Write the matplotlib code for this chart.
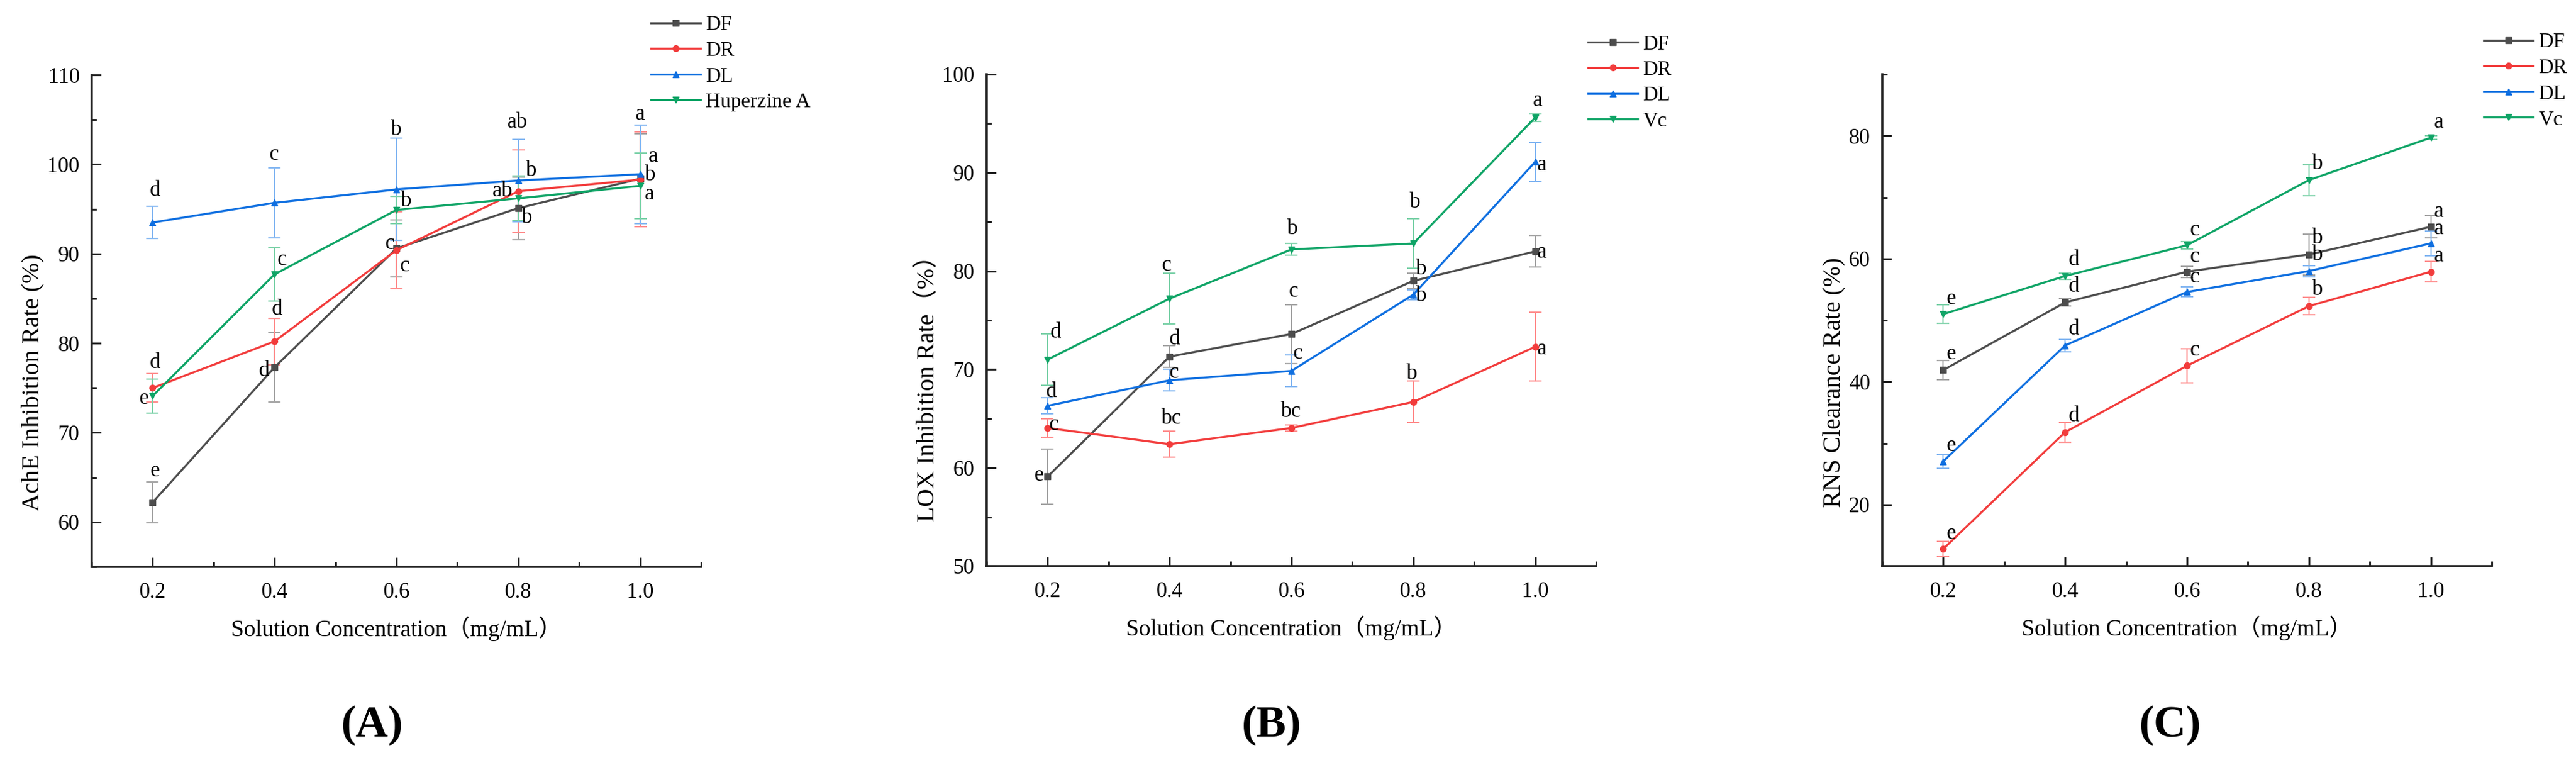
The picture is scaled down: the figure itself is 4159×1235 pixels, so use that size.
import matplotlib
matplotlib.use('Agg')
import matplotlib.pyplot as plt
from matplotlib.ticker import MultipleLocator

plt.rcParams['font.family'] = ['Liberation Serif', 'Noto Sans CJK SC']
plt.rcParams['mathtext.fontset'] = 'stix'

# concentrazioni (mg/mL)
conc = [0.2, 0.4, 0.6, 0.8, 1.0]
series_names = ['DF', 'DR', 'DL']

# --- (A) AchE ---
ache_df = [62.2, 77.3, 90.6, 95.1, 98.4]
ache_df_err = [2.3, 3.9, 3.2, 3.5, 5.0]
ache_dr = [75.0, 80.2, 90.4, 97.0, 98.3]
ache_dr_err = [1.6, 2.6, 4.3, 4.6, 5.3]
ache_dl = [93.5, 95.7, 97.2, 98.2, 98.9]
ache_dl_err = [1.8, 3.9, 5.7, 4.6, 5.5]
ache_hup = [74.1, 87.7, 94.9, 96.2, 97.6]
ache_hup_err = [1.9, 3.0, 1.5, 2.5, 3.7]
ache_letters = [
    (0.2045, 97.1, 'd'), (0.399, 101.1, 'c'), (0.600, 103.9, 'b'), (0.798, 104.7, 'ab'),
    (1.000, 105.6, 'a'), (1.021, 100.9, 'a'), (1.016, 98.8, 'b'), (1.015, 96.7, 'a'),
    (0.821, 99.3, 'b'), (0.774, 97.0, 'ab'), (0.814, 94.0, 'b'), (0.616, 95.9, 'b'),
    (0.589, 91.1, 'c'), (0.614, 88.6, 'c'), (0.412, 89.3, 'c'), (0.4045, 83.8, 'd'),
    (0.383, 76.9, 'd'), (0.2045, 77.8, 'd'), (0.1855, 73.8, 'e'), (0.2036, 65.7, 'e'),
]

# --- (B) LOX ---
lox_df = [59.1, 71.3, 73.6, 79.0, 82.0]
lox_df_err = [2.8, 1.1, 3.0, 0.8, 1.6]
lox_dr = [64.05, 62.4, 64.05, 66.7, 72.3]
lox_dr_err = [0.95, 1.3, 0.3, 2.1, 3.5]
lox_dl = [66.3, 68.9, 69.85, 77.6, 91.1]
lox_dl_err = [0.8, 1.1, 1.6, 0.5, 2.0]
lox_vc = [71.0, 77.2, 82.2, 82.8, 95.6]
lox_vc_err = [2.6, 2.6, 0.6, 2.5, 0.4]
lox_letters = [
    (0.2136, 73.8, 'd'), (0.2063, 67.7, 'd'), (0.210, 64.4, 'c'), (0.1855, 59.2, 'e'),
    (0.3955, 80.6, 'c'), (0.408, 73.1, 'd'), (0.407, 69.7, 'c'), (0.403, 65.0, 'bc'),
    (0.602, 84.3, 'b'), (0.603, 77.9, 'c'), (0.611, 71.6, 'c'), (0.599, 65.7, 'bc'),
    (0.803, 87.0, 'b'), (0.8136, 80.2, 'b'), (0.8136, 77.5, 'b'), (0.798, 69.55, 'b'),
    (1.0036, 97.3, 'a'), (1.011, 90.8, 'a'), (1.011, 81.9, 'a'), (1.011, 72.1, 'a'),
]

# --- (C) RNS ---
rns_df = [41.9, 52.9, 57.9, 60.7, 65.2]
rns_df_err = [1.6, 0.6, 0.9, 3.3, 1.8]
rns_dr = [12.8, 31.8, 42.6, 52.3, 57.9]
rns_dr_err = [1.2, 1.6, 2.8, 1.4, 1.7]
rns_dl = [27.05, 45.9, 54.6, 58.0, 62.5]
rns_dl_err = [1.1, 1.0, 0.8, 0.9, 2.0]
rns_vc = [51.0, 57.2, 62.2, 72.8, 79.7]
rns_vc_err = [1.5, 0.5, 0.6, 2.5, 0.3]
rns_letters = [
    (0.2134, 53.5, 'e'), (0.2134, 44.5, 'e'), (0.2134, 29.6, 'e'), (0.2134, 15.3, 'e'),
    (0.414, 59.8, 'd'), (0.414, 55.5, 'd'), (0.414, 48.5, 'd'), (0.414, 34.4, 'd'),
    (0.613, 64.7, 'c'), (0.613, 60.3, 'c'), (0.613, 57.0, 'c'), (0.613, 45.1, 'c'),
    (0.8146, 75.4, 'b'), (0.8146, 63.3, 'b'), (0.8146, 60.6, 'b'), (0.8146, 55.0, 'b'),
    (1.0136, 82.2, 'a'), (1.0136, 67.7, 'a'), (1.0136, 64.9, 'a'), (1.0136, 60.4, 'a'),
]

colors = ['#4D4D4D', '#F23C3C', '#0F6FE0', '#0FA466']
err_colors = ['#A6A6A6', '#FF9090', '#86B8F2', '#7ED2AA']
markers = ['s', 'o', '^', 'v']

W, H = 4159, 1235
fig = plt.figure(figsize=(W / 100, H / 100), dpi=100)


def px_axes(left, right, top, bottom):
    return fig.add_axes([left / W, 1 - bottom / H, (right - left) / W, (bottom - top) / H])


panels = [
    dict(box=(148, 1132, 121, 915), ylim=(55, 110), major=10, minor=5,
         ylabel='AchE Inhibition Rate (%)', ylx=72,
         data=[(ache_df, ache_df_err), (ache_dr, ache_dr_err), (ache_dl, ache_dl_err), (ache_hup, ache_hup_err)],
         names=series_names + ['Huperzine A'], letters=ache_letters,
         leg=(1051, 25), tag='(A)', tagx=601),
    dict(box=(1593, 2577, 120, 914), ylim=(50, 100), major=10, minor=5,
         ylabel='LOX Inhibition Rate（%）', ylx=1517,
         data=[(lox_df, lox_df_err), (lox_dr, lox_dr_err), (lox_dl, lox_dl_err), (lox_vc, lox_vc_err)],
         names=series_names + ['Vc'], letters=lox_letters,
         leg=(2564, 56), tag='(B)', tagx=2053),
    dict(box=(3039, 4023, 120, 914), ylim=(10, 90), major=20, minor=10,
         ylabel='RNS Clearance Rate (%)', ylx=2979,
         data=[(rns_df, rns_df_err), (rns_dr, rns_dr_err), (rns_dl, rns_dl_err), (rns_vc, rns_vc_err)],
         names=series_names + ['Vc'], letters=rns_letters,
         leg=(4010, 53), tag='(C)', tagx=3504),
]

for p in panels:
    ax = px_axes(*p['box'])
    for i, ((vals, errs), name) in enumerate(zip(p['data'], p['names'])):
        ax.errorbar(conc, vals, yerr=errs, fmt='none', ecolor=err_colors[i],
                    elinewidth=1.6, capsize=7, capthick=1.6, zorder=2)
        ax.plot(conc, vals, color=colors[i], marker=markers[i], ms=7, lw=2.4,
                label=name, zorder=3)
    for x, y, t in p['letters']:
        ax.text(x, y, t, fontsize=25, ha='center', va='center', zorder=4)

    ax.set_xlim(0.1, 1.1)
    ax.set_ylim(*p['ylim'])
    ax.set_xticks(conc)
    ax.set_xticklabels(['0.2', '0.4', '0.6', '0.8', '1.0'])
    ax.xaxis.set_minor_locator(MultipleLocator(0.1))
    ax.yaxis.set_major_locator(MultipleLocator(p['major']))
    ax.yaxis.set_minor_locator(MultipleLocator(p['minor']))
    ax.spines['top'].set_visible(False)
    ax.spines['right'].set_visible(False)
    for s in ('left', 'bottom'):
        ax.spines[s].set_linewidth(2.6)
        ax.spines[s].set_color('#222222')
    ax.tick_params(which='major', direction='in', length=11, width=2.2, labelsize=25, pad=14,
                   color='#222222')
    ax.tick_params(which='minor', direction='in', length=6, width=2.2, color='#222222')
    ax.tick_params(axis='x', which='major', pad=18)

    ax.set_xlabel('Solution Concentration（mg/mL）', fontsize=27, labelpad=16)
    ax.set_ylabel(p['ylabel'], fontsize=29)
    ax.yaxis.set_label_coords(p['ylx'] / W, 0.5, transform=fig.transFigure)

    lx, ly = p['leg']
    ax.legend(loc='upper left', bbox_to_anchor=(lx / W, 1 - ly / H),
              bbox_transform=fig.transFigure, frameon=False, fontsize=24,
              handlelength=2.4, handletextpad=0.25, labelspacing=0.33,
              borderpad=0, borderaxespad=0)

    fig.text(p['tagx'] / W, 1 - 1171 / H, p['tag'], fontsize=52, fontweight='bold',
             ha='center', va='center')

fig.savefig('out.png', dpi=100)
